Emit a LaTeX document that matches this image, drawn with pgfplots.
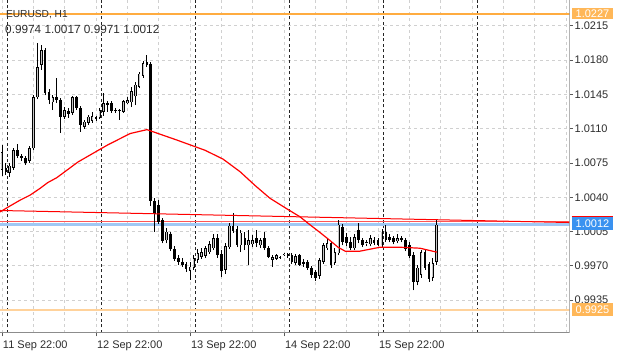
\documentclass[border=0pt]{standalone}
\usepackage{fontspec}
\setmainfont{Liberation Sans}
\usepackage{pgfplots}
\usepackage{pgfplotstable}
\pgfplotsset{compat=1.18}
\definecolor{gridgray}{RGB}{208,208,208}
\definecolor{framegray}{RGB}{140,140,140}
\definecolor{txt}{RGB}{45,45,45}
\definecolor{lvlorange}{RGB}{255,172,64}
\definecolor{lvlpeach}{RGB}{255,210,155}
\definecolor{boxorange}{RGB}{255,183,88}
\definecolor{bidblue}{RGB}{160,200,245}
\definecolor{boxblue}{RGB}{58,146,240}
\definecolor{askred}{RGB}{255,85,85}

\pgfplotstableread{
x o h l c
0 1.0068 1.0093 1.0062 1.0086
2 1.0065 1.0075 1.0061 1.0072
3 1.0070 1.0090 1.0068 1.0088
7 1.0077 1.0092 1.0075 1.0090
8 1.0090 1.0144 1.0088 1.0142
9 1.0142 1.0197 1.0140 1.0173
10 1.0175 1.0195 1.0170 1.0190
13 1.0137 1.0144 1.0129 1.0142
16 1.0122 1.0132 1.0120 1.0129
18 1.0126 1.0143 1.0124 1.0142
21 1.0112 1.0119 1.0110 1.0117
22 1.0116 1.0124 1.0114 1.0122
23 1.0118 1.0127 1.0116 1.0123
25 1.0121 1.0131 1.0120 1.0129
26 1.0127 1.0146 1.0123 1.0136
31 1.0127 1.0139 1.0126 1.0138
32 1.0136 1.0142 1.0135 1.0139
33 1.0137 1.0152 1.0132 1.0148
34 1.0143 1.0158 1.0134 1.0155
35 1.0153 1.0168 1.0151 1.0166
36 1.0164 1.0179 1.0162 1.0177
42 0.9996 1.0009 0.9993 1.0005
48 0.9965 0.9974 0.9956 0.9969
49 0.9968 0.9981 0.9966 0.9978
50 0.9976 0.9987 0.9973 0.9983
51 0.9979 0.9988 0.9977 0.9984
52 0.9980 0.9990 0.9978 0.9988
53 0.9984 0.9995 0.9982 0.9992
54 0.9988 1.0002 0.9986 0.9998
57 0.9966 0.9993 0.9962 0.9990
58 0.9989 1.0014 0.9987 1.0011
61 0.9991 1.0007 0.9984 1.0004
63 0.9991 1.0007 0.9971 0.9996
64 0.9992 1.0001 0.9989 0.9996
66 0.9991 0.9998 0.9988 0.9996
69 0.9976 0.9981 0.9969 0.9979
70 0.9977 0.9982 0.9976 0.9981
72 0.9981 0.9983 0.9980 0.9982
75 0.9973 0.9982 0.9971 0.9980
81 0.9960 0.9978 0.9957 0.9976
82 0.9974 0.9993 0.9972 0.9991
83 0.9988 0.9997 0.9986 0.9993
85 0.9973 0.9988 0.9971 0.9984
86 0.9983 1.0017 0.9981 1.0012
90 0.9988 1.0003 0.9986 0.9999
93 0.9993 0.9996 0.9990 0.9994
94 0.9992 1.0001 0.9990 0.9998
97 0.9991 1.0008 0.9989 1.0005
101 0.9995 1.0002 0.9993 0.9998
106 0.9954 0.9971 0.9950 0.9968
107 0.9961 0.9986 0.9958 0.9984
110 0.9958 0.9978 0.9955 0.9973
111 0.9974 1.0017 0.9971 1.0012
}\bull

\pgfplotstableread{
x o h l c
1 1.0070 1.0075 1.0063 1.0066
4 1.0088 1.0094 1.0080 1.0082
5 1.0082 1.0084 1.0077 1.0080
6 1.0080 1.0082 1.0073 1.0075
11 1.0190 1.0192 1.0144 1.0146
12 1.0147 1.0150 1.0135 1.0139
14 1.0142 1.0162 1.0136 1.0139
15 1.0139 1.0141 1.0106 1.0122
17 1.0128 1.0131 1.0121 1.0125
19 1.0142 1.0143 1.0129 1.0131
20 1.0131 1.0133 1.0107 1.0114
24 1.0122 1.0123 1.0118 1.0120
27 1.0136 1.0138 1.0127 1.0134
28 1.0136 1.0138 1.0126 1.0128
29 1.0129 1.0131 1.0126 1.0128
30 1.0129 1.0130 1.0119 1.0128
37 1.0178 1.0185 1.0173 1.0175
38 1.0176 1.0178 1.0031 1.0036
39 1.0036 1.0039 1.0005 1.0023
40 1.0032 1.0037 1.0013 1.0015
41 1.0017 1.0019 0.9993 0.9995
43 1.0003 1.0005 0.9985 0.9987
44 0.9987 0.9990 0.9975 0.9977
45 0.9978 0.9981 0.9971 0.9974
46 0.9974 0.9978 0.9969 0.9971
47 0.9972 0.9974 0.9964 0.9967
55 0.9998 1.0002 0.9978 0.9981
56 0.9982 0.9986 0.9959 0.9965
59 1.0011 1.0024 1.0004 1.0006
60 1.0008 1.0011 0.9989 0.9991
62 0.9998 1.0005 0.9986 0.9991
65 0.9998 1.0007 0.9989 0.9993
67 0.9998 1.0005 0.9986 0.9988
68 0.9988 0.9990 0.9978 0.9979
71 0.9979 0.9980 0.9977 0.9978
73 0.9982 0.9983 0.9978 0.9980
74 0.9981 0.9983 0.9972 0.9974
76 0.9981 0.9982 0.9970 0.9971
77 0.9974 0.9977 0.9969 0.9972
78 0.9974 0.9976 0.9966 0.9968
79 0.9968 0.9970 0.9958 0.9961
80 0.9964 0.9966 0.9955 0.9958
84 0.9993 0.9995 0.9968 0.9971
87 1.0010 1.0013 0.9991 0.9994
88 0.9999 1.0004 0.9990 0.9993
89 0.9994 0.9999 0.9986 0.9988
91 1.0007 1.0014 0.9993 0.9996
92 0.9996 0.9998 0.9989 0.9991
95 0.9996 0.9999 0.9991 0.9993
96 0.9996 0.9998 0.9990 0.9991
98 1.0005 1.0012 0.9994 0.9996
99 0.9999 1.0002 0.9994 0.9996
100 0.9998 1.0000 0.9992 0.9994
102 0.9998 1.0000 0.9994 0.9996
103 0.9996 0.9998 0.9985 0.9987
104 0.9991 0.9994 0.9978 0.9980
105 0.9981 0.9984 0.9945 0.9954
108 0.9984 0.9986 0.9966 0.9968
109 0.9972 0.9974 0.9954 0.9957
}\bear

\pgfplotstableread{
x ma
-0.5 1.0025
2.0 1.0031
4.6 1.0037
7.1 1.0042
9.7 1.0049
11.7 1.0055
14.0 1.0060
19.4 1.0076
26.8 1.0093
32.7 1.0105
37.0 1.0109
44.2 1.0099
51.8 1.0088
56.4 1.0079
60.8 1.0066
64.6 1.0052
68.4 1.0039
72.8 1.0028
76.1 1.0020
78.6 1.0012
81.2 1.0004
83.7 0.9996
85.8 0.9989
87.6 0.9985
91.4 0.9985
96.5 0.9989
101.6 0.9989
106.7 0.9988
111.0 0.9984
}\ma

\begin{document}
\begin{tikzpicture}
\begin{axis}[
  at={(0pt,0pt)}, anchor=south west,
  scale only axis, width=569.5pt, height=333pt,
  xmin=-0.5106, xmax=144.88, ymin=0.990149, ymax=1.024129,
  axis line style={draw=none},
  xtick={0,24,48,72,96},
  xticklabels={11 Sep 22:00, 12 Sep 22:00, 13 Sep 22:00, 14 Sep 22:00, 15 Sep 22:00},
  minor xtick={0,8,...,144},
  ytick={0.9935,0.9970,1.0005,1.0040,1.0075,1.0110,1.0145,1.0180,1.0215},
  yticklabels={0.9935,0.9970,1.0005,1.0040,1.0075,1.0110,1.0145,1.0180,1.0215},
  xtick pos=left, ytick pos=right, yticklabel pos=right,
  tick align=outside, major tick length=3.5pt, minor tick length=0pt,
  tick style={color=black!65, line width=0.8pt},
  xmajorgrids, xminorgrids, ymajorgrids,
  major grid style={gridgray, line width=0.8pt, dash pattern=on 3pt off 3pt},
  minor grid style={gridgray, line width=0.8pt, dash pattern=on 3pt off 3pt},
  ticklabel style={font=\fontsize{11}{13}\selectfont, text=txt},
  xticklabel style={anchor=base west, inner sep=0pt, xshift=0.8pt, yshift=-12pt},
  yticklabel style={anchor=west, inner xsep=1.5pt},
]
% period separators
\pgfplotsinvokeforeach{1.5,25.5,49.5,73.5,97.5,121.5}{
  \draw[black!85, line width=0.9pt, dash pattern=on 3pt off 2.5pt] (axis cs:#1,0.990149) -- (axis cs:#1,1.024129);
}
% levels
\addplot[lvlorange, line width=1.5pt] coordinates {(-0.5106,1.0227) (144.88,1.0227)};
\addplot[lvlpeach, line width=1.5pt] coordinates {(-0.5106,0.9925) (144.88,0.9925)};
\addplot[bidblue, line width=2.5pt] coordinates {(-0.5106,1.0012) (144.88,1.0012)};
\addplot[askred, line width=1.2pt] coordinates {(-0.5106,1.0015) (144.88,1.0015)};
% wicks
\addplot[black, line width=0.9pt, quiver={u=0, v=\thisrow{h}-\thisrow{l}}] table[x=x, y=l] {\bull};
\addplot[black, line width=0.9pt, quiver={u=0, v=\thisrow{h}-\thisrow{l}}] table[x=x, y=l] {\bear};
% bodies
\addplot[black, line width=2.7pt, quiver={u=0, v=\thisrow{c}-\thisrow{o}}] table[x=x, y=o] {\bear};
\addplot[black, line width=2.7pt, quiver={u=0, v=\thisrow{c}-\thisrow{o}}] table[x=x, y=o] {\bull};
\addplot[gray!45, line width=1.0pt, quiver={u=0, v=\thisrow{c}-\thisrow{o}-0.00012}] table[x=x, y expr=\thisrow{o}+0.00006] {\bull};
% trend line and moving average
\addplot[red, line width=1pt] coordinates {(-0.5106,1.00265) (144.88,1.00142)};
\addplot[red, line width=1.2pt] table[x=x, y=ma] {\ma};
% frame
\draw[framegray, line width=1pt] (rel axis cs:0,1) -- (rel axis cs:0,0) -- (rel axis cs:1,0) -- (rel axis cs:1,1);
\coordinate (Rtop) at (axis cs:144.88,1.0227);
\coordinate (Rbot) at (axis cs:144.88,0.9925);
\coordinate (Rbid) at (axis cs:144.88,1.0012);
\end{axis}
\node[fill=boxorange, text=white, anchor=west, inner xsep=3.8pt, inner ysep=0pt, minimum height=11pt, font=\fontsize{11}{13}\selectfont] at ([xshift=2.2pt]Rtop) {1.0227};
\node[fill=boxorange, text=white, anchor=west, inner xsep=3.8pt, inner ysep=0pt, minimum height=12.5pt, font=\fontsize{11}{13}\selectfont] at ([xshift=2.2pt,yshift=0.3pt]Rbot) {0.9925};
\node[fill=boxblue, text=white, anchor=west, inner xsep=3.8pt, inner ysep=0pt, minimum height=13pt, font=\fontsize{11}{13}\selectfont] (bidbox) at ([xshift=2.2pt,yshift=1.3pt]Rbid) {1.0012};
\draw[red, line width=1.2pt] (bidbox.north west) -- (bidbox.north east);
\node[anchor=base west, inner sep=0pt, text=txt, font=\fontsize{10.2}{12}\selectfont] at (5.8pt,315.5pt) {EURUSD, H1};
\node[anchor=base west, inner sep=0pt, text=txt, font=\fontsize{11.8}{14}\selectfont] at (5pt,299.7pt) {0.9974 1.0017 0.9971 1.0012};
\pgfresetboundingbox
\path[use as bounding box] (0pt,-19pt) rectangle (625pt,333pt);
\end{tikzpicture}
\end{document}
